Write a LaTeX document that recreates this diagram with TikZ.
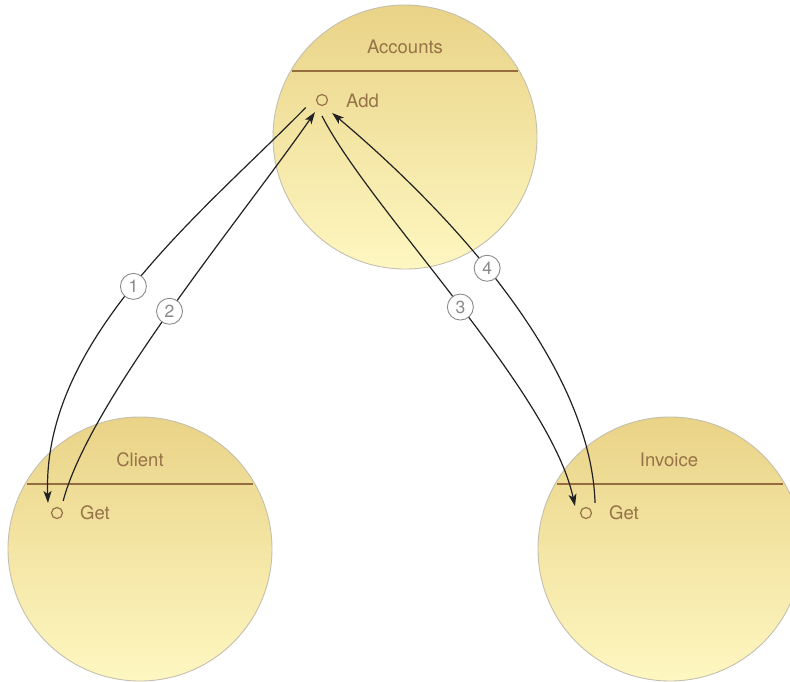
\documentclass[tikz,border=0pt]{standalone}
\usepackage{fontspec}
\setmainfont{TeX Gyre Heros}
\usetikzlibrary{arrows.meta}
\definecolor{circtop}{HTML}{E9D387}
\definecolor{circbot}{HTML}{FEF7C1}
\definecolor{circborder}{HTML}{C4BFAE}
\definecolor{txtbrown}{HTML}{967246}
\definecolor{seplinecol}{HTML}{946C40}
\definecolor{numgray}{HTML}{8A8A8A}
\definecolor{conncol}{HTML}{222222}
\begin{document}
\begin{tikzpicture}[x=1pt,y=-1pt,
  comp/.style={circle, minimum size=264pt, inner sep=0pt, draw=circborder, line width=0.9pt, top color=circtop, bottom color=circbot},
  sepline/.style={draw=seplinecol, line width=1.8pt},
  title/.style={text=txtbrown, font=\fontsize{18.5}{22}\selectfont, inner sep=0pt, anchor=base},
  opname/.style={text=txtbrown, font=\fontsize{18.5}{22}\selectfont, inner sep=0pt, anchor=base west},
  port/.style={circle, draw=txtbrown, line width=1.2pt, minimum size=11pt, inner sep=0pt},
  num/.style={circle, draw=numgray, fill=white, line width=0.9pt, minimum size=26pt, inner sep=0pt, text=numgray, font=\fontsize{17.5}{20}\selectfont},
  conn/.style={draw=conncol, line width=1.2pt, -{Stealth[length=12pt,width=8pt,inset=3pt]}}
]
\useasboundingbox (0,0) rectangle (790,681);

% components
\node[comp] (acc) at (405,137) {};
\node[comp] (cli) at (140,549) {};
\node[comp] (inv) at (670,549) {};

\draw[sepline] (acc.center) ++(-113,-66) -- ++(226,0);
\draw[sepline] (cli.center) ++(-113,-65) -- ++(226,0);
\draw[sepline] (inv.center) ++(-113,-65) -- ++(226,0);

\node[title] (acct) at (405,53) {Accounts};
\node[title] (clit) at (140,466) {Client};
\node[title] (invt) at (669,466) {Invoice};

\node[port] (addp) at (322,100) {};
\node[opname] (addl) at (346,107) {Add};
\node[port] (clip) at (57,513) {};
\node[opname] (clil) at (80,519.5) {Get};
\node[port] (invp) at (586,513) {};
\node[opname] (invl) at (609,519.5) {Get};

% connector end points around the ports
\path (addp.center) ++(205:18pt) coordinate (a1s);
\path (addp.center) ++(240:14pt) coordinate (a2e);
\path (addp.center) ++(270:16pt) coordinate (a3s);
\path (addp.center) ++(308:16.5pt) coordinate (a4e);
\path (clip.center) ++(132:13.5pt) coordinate (c1e);
\path (clip.center) ++(63:13.5pt) coordinate (c2s);
\path (invp.center) ++(148:13pt) coordinate (i3e);
\path (invp.center) ++(48:13.5pt) coordinate (i4s);

% connectors
\draw[conn] (a1s) .. controls (200,215) and (42,340) .. node[num, pos=0.505] (n1) {1} (c1e);
\draw[conn] (c2s) .. controls (90,400) and (240,220) .. node[num, pos=0.495] (n2) {2} (a2e);
\draw[conn] (a3s) .. controls (370,210) and (550,390) .. node[num, pos=0.51] (n3) {3} (i3e);
\draw[conn] (i4s) .. controls (590,340) and (400,170) .. node[num, pos=0.5] (n4) {4} (a4e);
\end{tikzpicture}
\end{document}
